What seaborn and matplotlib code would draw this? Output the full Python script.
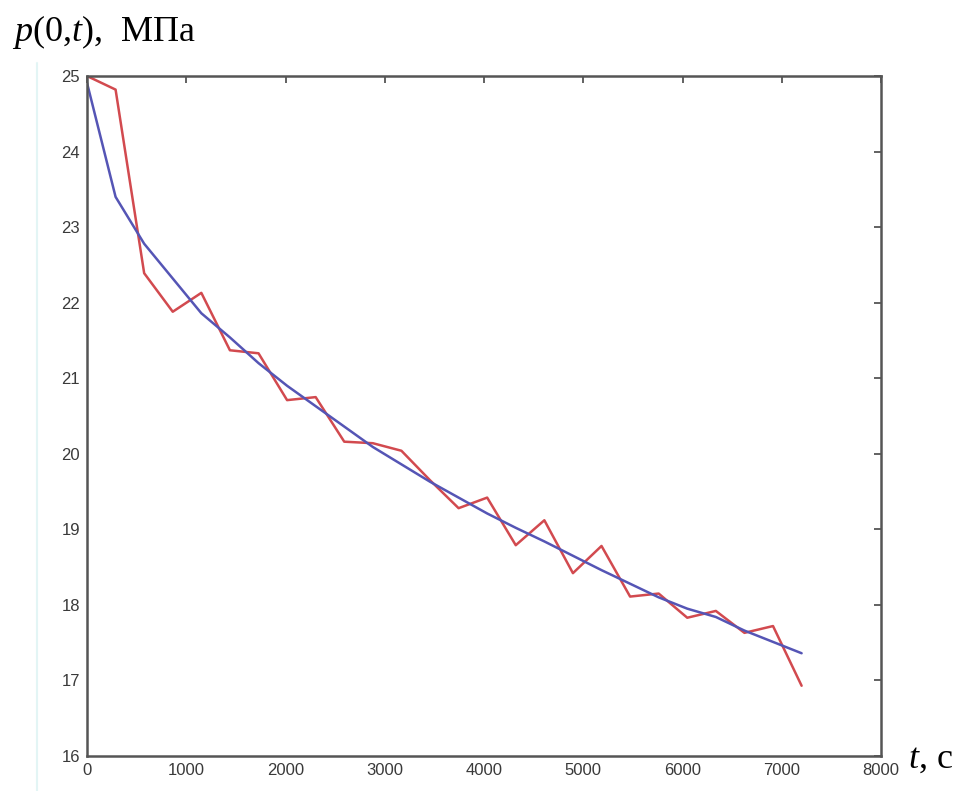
import matplotlib
matplotlib.use("Agg")
import matplotlib.pyplot as plt
from matplotlib.lines import Line2D
import numpy as np
import pandas as pd
import seaborn as sns

# time samples, s
time_s = [0, 288, 576, 864, 1152, 1440, 1728, 2016, 2304, 2592, 2880, 3168, 3456,
          3744, 4032, 4320, 4608, 4896, 5184, 5472, 5760, 6048, 6336, 6624, 6912, 7200]
# pressure at x = 0, MPa: measured (red) and computed (blue)
p_measured = [25.00, 24.82, 22.39, 21.88, 22.13, 21.37, 21.33, 20.71, 20.75, 20.16,
              20.14, 20.04, 19.65, 19.28, 19.42, 18.79, 19.12, 18.42, 18.78, 18.11,
              18.15, 17.83, 17.92, 17.63, 17.72, 16.93]
p_model = [24.91, 23.40, 22.78, 22.32, 21.86, 21.54, 21.20, 20.90, 20.63, 20.36,
           20.09, 19.86, 19.63, 19.42, 19.21, 19.02, 18.84, 18.65, 18.46, 18.28,
           18.10, 17.95, 17.84, 17.66, 17.51, 17.36]
x_ticks = [0, 1000, 2000, 3000, 4000, 5000, 6000, 7000, 8000]
y_ticks = [16, 17, 18, 19, 20, 21, 22, 23, 24, 25]

df = pd.DataFrame({"t": time_s, "measured": p_measured, "model": p_model})

sns.set_theme(style="white")
plt.rcParams["font.family"] = ["Liberation Sans", "DejaVu Sans"]
plt.rcParams["mathtext.fontset"] = "custom"
plt.rcParams["mathtext.rm"] = "Liberation Serif"
plt.rcParams["mathtext.it"] = "Liberation Serif:italic"

fig = plt.figure(figsize=(9.61, 7.91), dpi=100)
ax = fig.add_axes([87 / 961, 1 - 756 / 791, 794 / 961, 680 / 791])

sns.lineplot(data=df, x="t", y="measured", ax=ax, color="#d24a4f", lw=1.8)
sns.lineplot(data=df, x="t", y="model", ax=ax, color="#5555b5", lw=1.8)

ax.set_xlim(0, 8000)
ax.set_ylim(16, 25)
ax.set_xticks(x_ticks)
ax.set_yticks(y_ticks)
ax.set_xlabel("")
ax.set_ylabel("")
for side in ["left", "right", "top", "bottom"]:
    ax.spines[side].set_visible(True)
    ax.spines[side].set_color("#555555")
    ax.spines[side].set_linewidth(1.8)
ax.tick_params(direction="in", length=5, width=1.3, color="#555555",
               top=True, right=True, labelsize=12, labelcolor="#3a3a3a")
ax.tick_params(axis="x", pad=5)
ax.tick_params(axis="y", pad=5)

# faint edge line at the left of the figure
fig.add_artist(Line2D([37 / 961, 37 / 961], [0, 1 - 63 / 791],
                      transform=fig.transFigure, color="#e3f5f5", lw=1.5))

# axis captions
fig.text(12 / 961, 1 - 41 / 791, r"$p$(0,$t$),  МПа", fontsize=26,
         family="Liberation Serif", ha="left", va="baseline", color="black")
fig.text(908 / 961, 1 - 768 / 791, r"$t$, с", fontsize=26,
         family="Liberation Serif", ha="left", va="baseline", color="black")

fig.savefig("out.png", dpi=100, facecolor="white")
